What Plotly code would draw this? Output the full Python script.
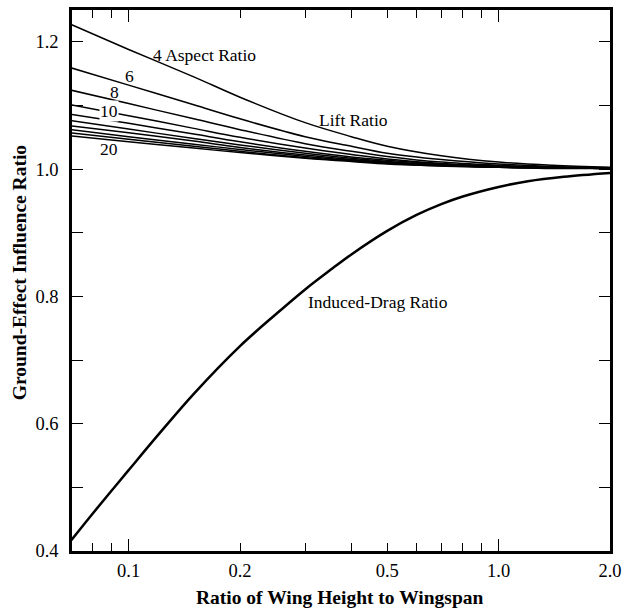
import numpy as np
import plotly.graph_objects as go

# ---- data ----
h_over_b_drag = [0.07, 0.08, 0.09, 0.1, 0.12, 0.15, 0.2, 0.25, 0.3, 0.35, 0.4, 0.5, 0.6, 0.7,
                 0.8, 1.0, 1.2, 1.5, 2.0]
induced_drag_ratio = [0.417, 0.459, 0.495, 0.527, 0.582, 0.647, 0.722, 0.772, 0.811, 0.841,
                      0.866, 0.903, 0.928, 0.945, 0.957, 0.972, 0.981, 0.988, 0.994]

h_over_b_lift = [0.07, 0.1, 0.15, 0.2, 0.3, 0.4, 0.5, 0.7, 1.0, 1.4, 2.0]
lift_ar4 = [1.227, 1.188, 1.145, 1.113, 1.073, 1.051, 1.036, 1.021, 1.011, 1.006, 1.003]
lift_ar6 = [1.159, 1.132, 1.101, 1.079, 1.051, 1.036, 1.025, 1.015, 1.008, 1.004, 1.002]
lift_ar8 = [1.124, 1.103, 1.079, 1.062, 1.040, 1.028, 1.020, 1.011, 1.006, 1.003, 1.002]
lift_ar10 = [1.101, 1.084, 1.064, 1.050, 1.033, 1.023, 1.016, 1.009, 1.005, 1.003, 1.001]
lift_ar12 = [1.086, 1.072, 1.055, 1.043, 1.028, 1.019, 1.014, 1.008, 1.004, 1.002, 1.001]
lift_ar14 = [1.076, 1.063, 1.048, 1.038, 1.025, 1.017, 1.012, 1.007, 1.004, 1.002, 1.001]
lift_ar16 = [1.068, 1.057, 1.044, 1.034, 1.022, 1.015, 1.011, 1.006, 1.003, 1.002, 1.001]
lift_ar18 = [1.062, 1.051, 1.039, 1.031, 1.020, 1.014, 1.010, 1.006, 1.003, 1.002, 1.001]
lift_ar20 = [1.057, 1.047, 1.036, 1.028, 1.018, 1.013, 1.009, 1.005, 1.003, 1.002, 1.001]
lift_ar_low = [1.052, 1.043, 1.033, 1.026, 1.017, 1.012, 1.008, 1.005, 1.003, 1.001, 1.001]
lift_series = [lift_ar4, lift_ar6, lift_ar8, lift_ar10, lift_ar12, lift_ar14,
               lift_ar16, lift_ar18, lift_ar20, lift_ar_low]

x_tick_vals = [0.1, 0.2, 0.5, 1.0, 2.0]
x_tick_text = ["0.1", "0.2", "0.5", "1.0", "2.0"]
x_minor_vals = [0.08, 0.09, 0.3, 0.4, 0.6, 0.7, 0.8, 0.9]
x_long_vals = [0.1, 1.0]
y_tick_vals = [0.4, 0.6, 0.8, 1.0, 1.2]
y_tick_text = ["0.4", "0.6", "0.8", "1.0", "1.2"]
y_minor_vals = [0.5, 0.7, 0.9, 1.1]

FONT = "Liberation Serif, Times New Roman, Times, serif"
TICK_SIZE = 18.5
LABEL_SIZE = 17.5
TITLE_SIZE = 19.5

fig = go.Figure()
for s in lift_series:
    fig.add_trace(go.Scatter(x=h_over_b_lift, y=s, mode="lines",
                             line=dict(color="black", width=1.5, shape="spline", smoothing=1.0),
                             hoverinfo="skip", showlegend=False))
fig.add_trace(go.Scatter(x=h_over_b_drag, y=induced_drag_ratio, mode="lines",
                         line=dict(color="black", width=2.5, shape="spline", smoothing=1.0),
                         hoverinfo="skip", showlegend=False))
# invisible trace to anchor the overlay axis carrying the long decade ticks
fig.add_trace(go.Scatter(x=[0.1], y=[1.0], xaxis="x2", mode="markers",
                         marker=dict(opacity=0), hoverinfo="skip", showlegend=False))

xr = [np.log10(0.0703), np.log10(2.0)]
fig.update_layout(
    width=629, height=611,
    margin=dict(l=72, r=13, t=7, b=60),
    paper_bgcolor="white", plot_bgcolor="white",
    font=dict(family=FONT, size=TICK_SIZE, color="black"),
    xaxis=dict(type="log", range=xr, tickmode="array", tickvals=x_tick_vals, ticktext=x_tick_text,
               ticks="inside", ticklen=8, tickwidth=1, tickcolor="black",
               minor=dict(tickmode="array", tickvals=x_minor_vals, ticks="inside", ticklen=8,
                          tickwidth=1, tickcolor="black", showgrid=False),
               showgrid=False, zeroline=False, showline=True, linecolor="black", linewidth=2.5,
               mirror="ticks", ticklabelstandoff=1, tickfont=dict(family=FONT, size=TICK_SIZE)),
    xaxis2=dict(type="log", range=xr, overlaying="x", tickmode="array", tickvals=x_long_vals,
                ticks="inside", ticklen=12, tickwidth=1, tickcolor="black", showticklabels=False,
                showgrid=False, zeroline=False, showline=True, linecolor="black", linewidth=2.5,
                mirror="ticks", side="bottom"),
    yaxis=dict(range=[0.4, 1.25], tickmode="array", tickvals=y_tick_vals, ticktext=y_tick_text,
               ticks="inside", ticklen=11, tickwidth=1, tickcolor="black",
               minor=dict(tickmode="array", tickvals=y_minor_vals, ticks="inside", ticklen=11,
                          tickwidth=1, tickcolor="black", showgrid=False),
               showgrid=False, zeroline=False, showline=True, linecolor="black", linewidth=2.5,
               mirror="ticks", ticklabelstandoff=7, tickfont=dict(family=FONT, size=TICK_SIZE)),
)

ann = [
    dict(text="4 Aspect Ratio", x=np.log10(0.1159), y=1.18, xanchor="left"),
    dict(text="6", x=np.log10(0.1005), y=1.147, xanchor="center"),
    dict(text="8", x=np.log10(0.0913), y=1.1214, xanchor="center"),
    dict(text="10", x=np.log10(0.0884), y=1.0917, xanchor="center", bgcolor="white"),
    dict(text="20", x=np.log10(0.0884), y=1.0317, xanchor="center"),
    dict(text="Lift Ratio", x=np.log10(0.405), y=1.0766, xanchor="center"),
    dict(text="Induced-Drag Ratio", x=np.log10(0.4723), y=0.791, xanchor="center"),
]
for a in ann:
    fig.add_annotation(xref="x", yref="y", showarrow=False, yanchor="middle",
                       font=dict(family=FONT, size=LABEL_SIZE, color="black"), borderpad=0, **a)

fig.add_annotation(text="<b>Ratio of Wing Height to Wingspan</b>", xref="paper", yref="paper",
                   x=0.497, y=-0.0864, showarrow=False, xanchor="center", yanchor="middle",
                   font=dict(family=FONT, size=TITLE_SIZE, color="black"))
fig.add_annotation(text="<b>Ground-Effect Influence Ratio</b>", xref="paper", yref="paper",
                   x=-0.097, y=0.515, showarrow=False, xanchor="center", yanchor="middle",
                   textangle=-90, font=dict(family=FONT, size=TITLE_SIZE, color="black"))

fig.write_html("out.html")
